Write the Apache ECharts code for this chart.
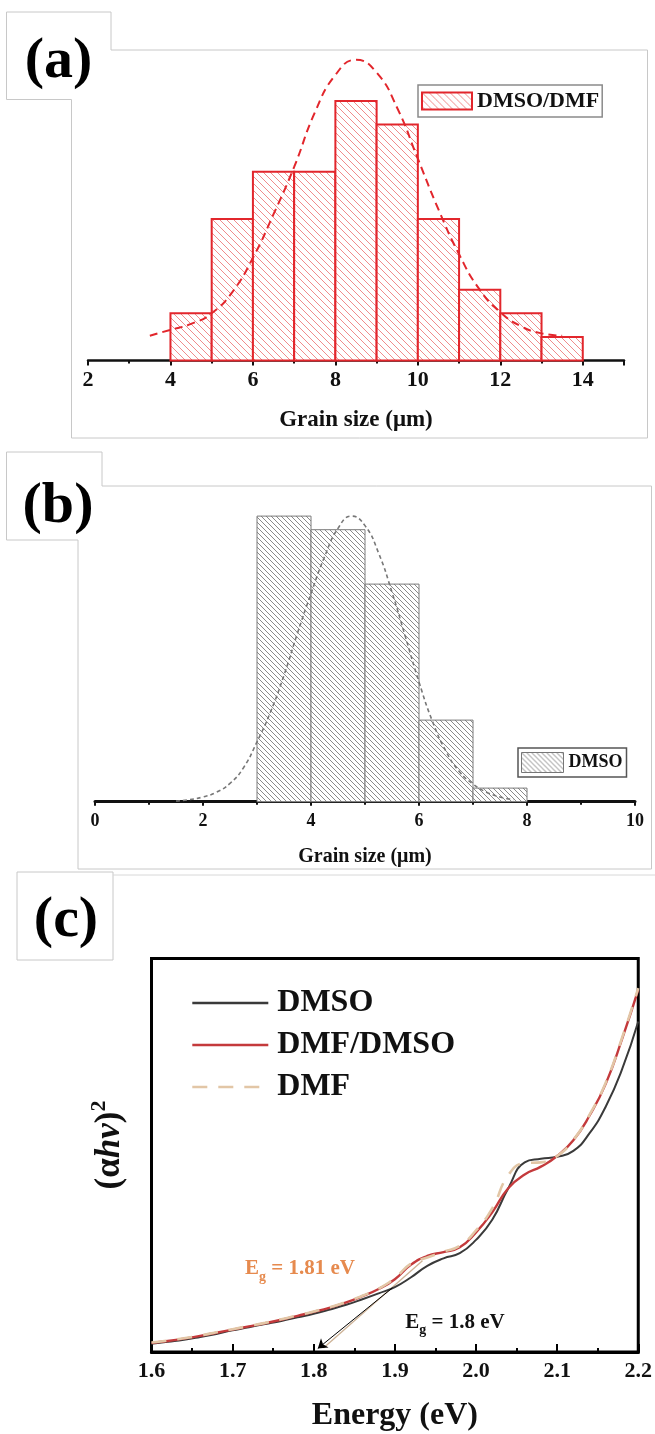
<!DOCTYPE html>
<html>
<head>
<meta charset="utf-8">
<script src="https://cdn.jsdelivr.net/npm/echarts@6/dist/echarts.min.js"></script>
<style>
  html, body { margin: 0; padding: 0; background: #fff; }
  #chart { width: 655px; height: 1434px; }
</style>
</head>
<body>
<div id="chart"></div>
<script>
// ---------- (a) DMSO/DMF grain-size histogram ----------
const aBinStart = [4, 5, 6, 7, 8, 9, 10, 11, 12, 13];
const aCounts   = [2, 6, 8, 8, 11, 10, 6, 3, 2, 1];
const aFitX = [3.5, 4, 4.5, 5, 5.5, 6, 6.5, 7, 7.5, 8, 8.5, 9, 9.5, 10, 10.5, 11, 11.5, 12, 12.5, 13, 13.5];
const aFitY = [1.05, 1.3, 1.55, 2.0, 2.9, 4.35, 6.2, 8.2, 10.5, 12.1, 12.74, 12.2, 10.7, 8.55, 6.4, 4.5, 3.0, 2.05, 1.45, 1.15, 1.05];
const aTicks = [2, 4, 6, 8, 10, 12, 14];

// ---------- (b) DMSO grain-size histogram ----------
const bBinStart = [3, 4, 5, 6, 7];
const bCounts   = [21, 20, 16, 6, 1];
const bFitX = [1.5, 1.75, 2, 2.25, 2.5, 2.75, 3, 3.25, 3.5, 3.75, 4, 4.25, 4.5, 4.75, 5, 5.25, 5.5, 5.75, 6, 6.25, 6.5, 6.75, 7, 7.25, 7.5, 7.75];
const bFitY = [0.05, 0.15, 0.35, 0.7, 1.35, 2.5, 4.4, 6.6, 9.3, 12.4, 15.3, 18.0, 20.1, 21.0, 20.3, 18.3, 15.4, 12.1, 8.8, 5.9, 3.7, 2.2, 1.3, 0.7, 0.35, 0.15];
const bTicks = [0, 2, 4, 6, 8, 10];

// ---------- (c) Tauc plot ----------
const cEnergy = [1.60, 1.62, 1.64, 1.66, 1.68, 1.70, 1.72, 1.74, 1.76, 1.78, 1.80, 1.82, 1.84, 1.86, 1.88, 1.90,
                 1.92, 1.94, 1.96, 1.98, 2.00, 2.02, 2.04, 2.06, 2.08, 2.10, 2.12, 2.14, 2.16, 2.18, 2.20];
const cDMSO    = [2.1, 2.6, 3.1, 3.8, 4.6, 5.5, 6.3, 7.1, 7.9, 8.8, 9.7, 10.8, 12.0, 13.4, 14.9, 16.5,
                  19.0, 21.9, 23.8, 25.1, 28.5, 33.6, 41.7, 48.2, 49.1, 49.6, 51.1, 55.6, 62.4, 71.8, 84.0];
const cDMFDMSO = [2.3, 2.8, 3.4, 4.1, 4.9, 5.7, 6.5, 7.3, 8.2, 9.2, 10.2, 11.3, 12.6, 14.2, 16.0, 18.5,
                  22.2, 24.4, 25.4, 26.6, 30.4, 35.5, 41.7, 45.1, 47.1, 49.8, 53.8, 60.1, 68.2, 79.5, 92.1];
const cDMF     = [2.4, 2.9, 3.5, 4.2, 5.0, 5.8, 6.6, 7.4, 8.3, 9.3, 10.3, 11.4, 12.7, 14.3, 16.1, 18.8,
                  22.5, 24.0, 25.5, 27.0, 30.9, 36.5, 45.0, 48.0, 48.2, 49.8, 53.9, 60.3, 68.5, 79.8, 92.5];
const cTicks = [1.6, 1.7, 1.8, 1.9, 2.0, 2.1, 2.2];
// tangent extrapolations to the energy axis
const cTangentDMSO = [[1.897, 16.3], [1.805, 0.9]];
const cTangentDMF  = [[1.934, 23.2], [1.812, 1.0]];
const cGapDMSO = 1.8;
const cGapDMF  = 1.81;

const SERIF = "'Liberation Serif', 'Times New Roman', serif";
const RED = '#e2262c';
const TAN = '#e2c6a6';

function hatch(color, step, width) {
  const c = document.createElement('canvas');
  c.width = step; c.height = step;
  const g = c.getContext('2d');
  g.fillStyle = '#fff';
  g.fillRect(0, 0, step, step);
  g.strokeStyle = color;
  g.lineWidth = width;
  g.beginPath();
  for (let k = -1; k <= 1; k++) {
    g.moveTo(-1, k * step - 1);
    g.lineTo(step + 1, step + k * step + 1);
  }
  g.stroke();
  return { image: c, repeat: 'repeat' };
}
const patA = hatch('#f08c8c', 7, 1);
const patB = hatch('#8a8a8a', 5, 1);

function histItem(fill, stroke, lw) {
  return function (params, api) {
    const p0 = api.coord([api.value(0), 0]);
    const p1 = api.coord([api.value(1), api.value(2)]);
    return {
      type: 'rect',
      shape: { x: p0[0], y: p1[1], width: p1[0] - p0[0], height: p0[1] - p1[1] },
      style: { fill: fill, stroke: stroke, lineWidth: lw }
    };
  };
}

const chart = echarts.init(document.getElementById('chart'), null, { renderer: 'canvas' });

const boldText = (size, extra) => Object.assign({ fontFamily: SERIF, fontWeight: 'bold', fontSize: size, color: '#111' }, extra || {});

const option = {
  backgroundColor: '#fff',
  animation: false,
  grid: [
    { left: 88, top: 53.7, width: 536, height: 306.8 },
    { left: 95, top: 502.5, width: 540, height: 299.2 },
    { left: 151.5, top: 958.5, width: 489.5, height: 393.5, show: true, borderColor: '#000', borderWidth: 3 }
  ],
  xAxis: [
    {
      gridIndex: 0, type: 'value', min: 2, max: 15, interval: 2,
      axisLine: { show: true, lineStyle: { color: '#111', width: 2.5 } },
      axisTick: { show: true, length: 5, lineStyle: { color: '#111', width: 2 } },
      minorTick: { show: true, splitNumber: 2, length: 3, lineStyle: { color: '#111', width: 2 } },
      splitLine: { show: false },
      axisLabel: Object.assign(boldText(22), { margin: 9, showMaxLabel: false,
        formatter: v => (aTicks.indexOf(v) >= 0 ? String(v) : '') }),
      name: 'Grain size (μm)', nameLocation: 'middle', nameGap: 48,
      nameTextStyle: boldText(23)
    },
    {
      gridIndex: 1, type: 'value', min: 0, max: 10, interval: 2,
      axisLine: { show: true, lineStyle: { color: '#111', width: 3 } },
      axisTick: { show: true, length: 4, lineStyle: { color: '#111', width: 2 } },
      minorTick: { show: true, splitNumber: 2, length: 3, lineStyle: { color: '#111', width: 2 } },
      splitLine: { show: false },
      axisLabel: Object.assign(boldText(18), { margin: 11,
        formatter: v => (bTicks.indexOf(v) >= 0 ? String(v) : '') }),
      name: 'Grain size (μm)', nameLocation: 'middle', nameGap: 45,
      nameTextStyle: boldText(20)
    },
    {
      gridIndex: 2, type: 'value', min: 1.6, max: 2.2, interval: 0.1,
      axisLine: { show: true, lineStyle: { color: '#000', width: 3 } },
      axisTick: { show: true, inside: true, length: 8, lineStyle: { color: '#000', width: 2 } },
      minorTick: { show: true, splitNumber: 2, length: 4, lineStyle: { color: '#000', width: 2 } },
      splitLine: { show: false },
      axisLabel: Object.assign(boldText(22), { margin: 8, showMinLabel: true, showMaxLabel: true,
        formatter: v => v.toFixed(1) }),
      name: 'Energy (eV)', nameLocation: 'middle', nameGap: 48,
      nameTextStyle: boldText(32)
    }
  ],
  yAxis: [
    { gridIndex: 0, type: 'value', min: 0, max: 13, show: false },
    { gridIndex: 1, type: 'value', min: 0, max: 22, show: false },
    { gridIndex: 2, type: 'value', min: 0, max: 100,
      axisLine: { show: false }, axisTick: { show: false }, axisLabel: { show: false }, splitLine: { show: false } }
  ],
  legend: [
    {
      left: 418, top: 85, orient: 'horizontal', selectedMode: false,
      itemWidth: 50, itemHeight: 17, padding: [5, 3, 5, 3],
      borderColor: '#8a8a8a', borderWidth: 1.5, backgroundColor: '#fff',
      data: [{ name: 'DMSO/DMF', icon: 'rect', itemStyle: { color: patA, borderColor: RED, borderWidth: 2 } }],
      textStyle: boldText(22, { lineHeight: 22 })
    },
    {
      left: 518, top: 748, orient: 'horizontal', selectedMode: false,
      itemWidth: 42, itemHeight: 20, padding: [4, 4, 4, 3],
      borderColor: '#555', borderWidth: 1.5, backgroundColor: '#fff',
      data: [{ name: 'DMSO grains', icon: 'rect', itemStyle: { color: patB, borderColor: '#777', borderWidth: 1 } }],
      formatter: () => 'DMSO',
      textStyle: boldText(18, { lineHeight: 20 })
    },
    {
      left: 191, top: 987, orient: 'vertical', selectedMode: false,
      itemWidth: 76, itemHeight: 14, itemGap: 10, padding: 0,
      // line-only keys: the marker drawn on the key line is made fully transparent
      itemStyle: { color: 'rgba(0,0,0,0)', borderColor: 'rgba(0,0,0,0)', borderWidth: 0 },
      lineStyle: { width: 2.6 },
      data: ['DMSO', 'DMF/DMSO', 'DMF'],
      textStyle: boldText(32, { lineHeight: 32, padding: [0, 0, 0, 4] })
    }
  ],
  series: [
    // (a)
    {
      name: 'DMSO/DMF', type: 'custom', xAxisIndex: 0, yAxisIndex: 0,
      renderItem: histItem(patA, RED, 2),
      encode: { x: [0, 1], y: 2 },
      itemStyle: { color: RED },
      data: aBinStart.map((s, i) => [s, s + 1, aCounts[i]])
    },
    {
      name: 'DMSO/DMF fit', type: 'line', xAxisIndex: 0, yAxisIndex: 0, smooth: true,
      symbol: 'none', z: 5,
      lineStyle: { color: RED, width: 2, type: [8, 5] },
      data: aFitX.map((x, i) => [x, aFitY[i]])
    },
    // (b)
    {
      name: 'DMSO grains', type: 'custom', xAxisIndex: 1, yAxisIndex: 1,
      renderItem: histItem(patB, '#7a7a7a', 1),
      encode: { x: [0, 1], y: 2 },
      itemStyle: { color: '#888' },
      data: bBinStart.map((s, i) => [s, s + 1, bCounts[i]])
    },
    {
      name: 'DMSO fit', type: 'line', xAxisIndex: 1, yAxisIndex: 1, smooth: true,
      symbol: 'none', z: 5,
      lineStyle: { color: '#777', width: 1.6, type: [4, 3] },
      data: bFitX.map((x, i) => [x, bFitY[i]])
    },
    // (c)
    {
      name: 'DMSO', type: 'line', xAxisIndex: 2, yAxisIndex: 2, smooth: true, symbol: 'none',
      itemStyle: { color: '#3a3a3a' },
      lineStyle: { color: '#3a3a3a', width: 2 },
      data: cEnergy.map((x, i) => [x, cDMSO[i]]),
      markPoint: {
        symbol: 'circle', symbolSize: 0, silent: true,
        label: {
          show: true, position: 'inside',
          formatter: '{m|E}{s|g}{m| = ' + cGapDMSO + ' eV}',
          rich: {
            m: boldText(21, { color: '#111', lineHeight: 30 }),
            s: boldText(14, { color: '#111', lineHeight: 14, verticalAlign: 'bottom' })
          }
        },
        data: [{ coord: [1.974, 7.5] }]
      }
    },
    {
      name: 'DMF/DMSO', type: 'line', xAxisIndex: 2, yAxisIndex: 2, smooth: true, symbol: 'none',
      itemStyle: { color: '#c43a3c' },
      lineStyle: { color: '#c43a3c', width: 2.4 },
      data: cEnergy.map((x, i) => [x, cDMFDMSO[i]])
    },
    {
      name: 'DMF', type: 'line', xAxisIndex: 2, yAxisIndex: 2, smooth: true, symbol: 'none', z: 4,
      itemStyle: { color: TAN },
      lineStyle: { color: TAN, width: 2.6, type: [15, 11] },
      data: cEnergy.map((x, i) => [x, cDMF[i]]),
      markPoint: {
        symbol: 'circle', symbolSize: 0, silent: true,
        label: {
          show: true, position: 'inside',
          formatter: '{m|E}{s|g}{m| = ' + cGapDMF + ' eV}',
          rich: {
            m: boldText(21, { color: '#e68a4e', lineHeight: 30 }),
            s: boldText(14, { color: '#e68a4e', lineHeight: 14, verticalAlign: 'bottom' })
          }
        },
        data: [{ coord: [1.783, 21.1] }]
      }
    },
    {
      name: 'tangent DMF', type: 'lines', coordinateSystem: 'cartesian2d', xAxisIndex: 2, yAxisIndex: 2,
      symbol: ['none', 'none'], z: 3,
      lineStyle: { color: '#cdb296', width: 1.3, opacity: 1 },
      data: [{ coords: cTangentDMF }]
    },
    {
      name: 'tangent DMSO', type: 'lines', coordinateSystem: 'cartesian2d', xAxisIndex: 2, yAxisIndex: 2,
      symbol: ['none', 'arrow'], symbolSize: 9, z: 6,
      lineStyle: { color: '#000', width: 1, opacity: 1 },
      data: [{ coords: cTangentDMSO }]
    }
  ],
  graphic: [
    // panel outlines
    { type: 'polygon', z: -10, silent: true,
      shape: { points: [[6.5, 12], [111, 12], [111, 50], [647.5, 50], [647.5, 438], [71.5, 438], [71.5, 99.5], [6.5, 99.5]] },
      style: { fill: 'none', stroke: '#c8c8c8', lineWidth: 1 } },
    { type: 'polygon', z: -10, silent: true,
      shape: { points: [[6.5, 452], [102, 452], [102, 486], [651.5, 486], [651.5, 869], [78, 869], [78, 540], [6.5, 540]] },
      style: { fill: 'none', stroke: '#c8c8c8', lineWidth: 1 } },
    { type: 'polygon', z: -10, silent: true,
      shape: { points: [[17, 872], [113, 872], [113, 960], [17, 960]] },
      style: { fill: 'none', stroke: '#c8c8c8', lineWidth: 1 } },
    { type: 'polyline', z: -10, silent: true,
      shape: { points: [[113, 875], [655, 875]] },
      style: { stroke: '#d8d8d8', lineWidth: 1 } },
    // panel letters
    { type: 'text', x: 58.5, y: 62, silent: true,
      style: { text: '(a)', font: 'bold 58px ' + SERIF, fill: '#000', align: 'center', verticalAlign: 'middle' } },
    { type: 'text', x: 58, y: 507, silent: true,
      style: { text: '(b)', font: 'bold 58px ' + SERIF, fill: '#000', align: 'center', verticalAlign: 'middle' } },
    { type: 'text', x: 66, y: 921, silent: true,
      style: { text: '(c)', font: 'bold 58px ' + SERIF, fill: '#000', align: 'center', verticalAlign: 'middle' } },
    // y-axis label of the Tauc plot
    { type: 'text', x: 110, y: 1145, rotation: Math.PI / 2, silent: true,
      style: {
        text: '{p|(α}{i|hv}{p|)}{s|2}',
        align: 'center', verticalAlign: 'middle',
        rich: {
          p: { fontFamily: SERIF, fontWeight: 'bold', fontSize: 35, lineHeight: 44, fill: '#111' },
          i: { fontFamily: SERIF, fontWeight: 'bold', fontStyle: 'italic', fontSize: 35, lineHeight: 44, fill: '#111' },
          s: { fontFamily: SERIF, fontWeight: 'bold', fontSize: 22, lineHeight: 22, verticalAlign: 'top', fill: '#111' }
        }
      } }
  ]
};

chart.setOption(option);
</script>
</body>
</html>
